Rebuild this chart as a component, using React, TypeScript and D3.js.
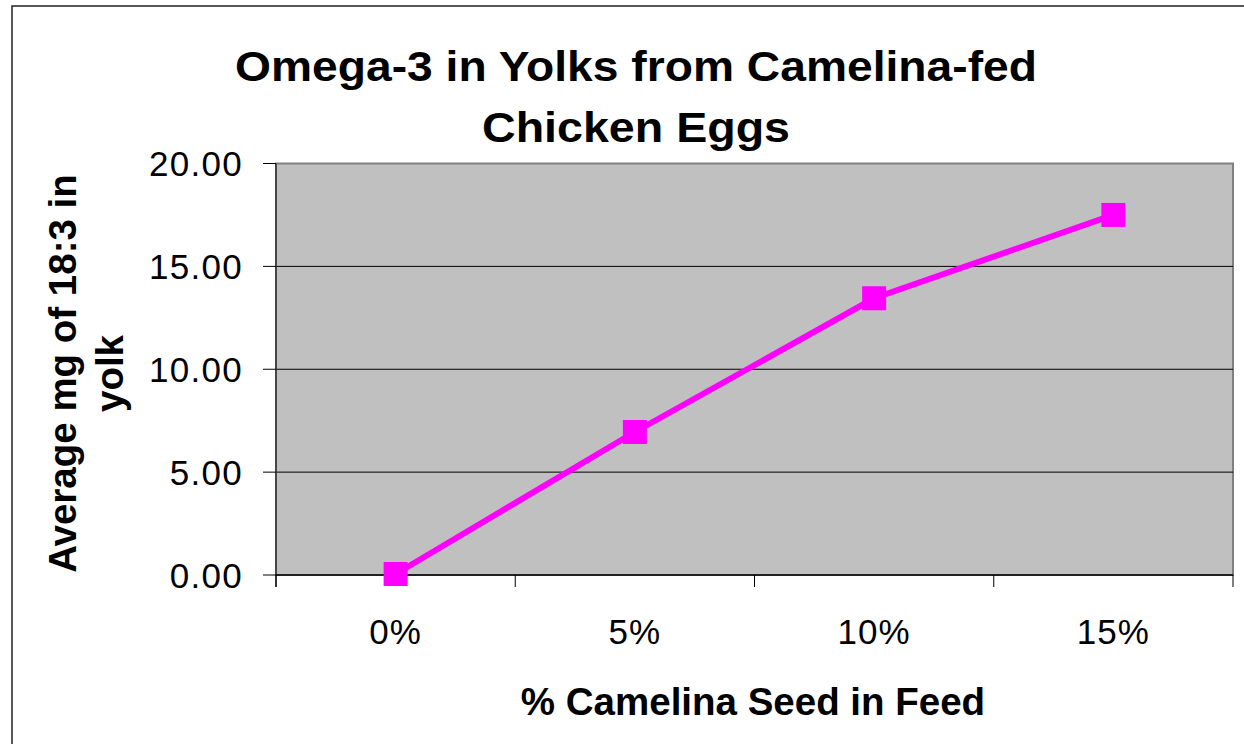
import React from "react";
import * as d3 from "d3";

const categories: string[] = ["0%", "5%", "10%", "15%"];
const values: number[] = [0.05, 6.95, 13.45, 17.5];
const yTicks: number[] = [0, 5, 10, 15, 20];
const titleLines: string[] = ["Omega-3 in Yolks from Camelina-fed", "Chicken Eggs"];
const yTitleLines: string[] = ["Average mg of 18:3 in", "yolk"];
const xTitle = "% Camelina Seed in Feed";

const W = 1244;
const H = 744;
const plot = { left: 276, right: 1233, top: 163.5, bottom: 575 };
const FONT = "'Liberation Sans', Arial, Helvetica, sans-serif";

export default function App() {
  const x = d3
    .scaleBand<string>()
    .domain(categories)
    .range([plot.left, plot.right])
    .padding(0);
  const y = d3.scaleLinear().domain([0, 20]).range([plot.bottom, plot.top]);

  const line = d3
    .line<number>()
    .x((_, i) => (x(categories[i]) as number) + x.bandwidth() / 2)
    .y((d) => y(d));

  const boundaries = categories.map((c) => x(c) as number).concat([plot.right]);
  const ms = 24;

  return (
    <svg
      width={W}
      height={H}
      style={{ position: "absolute", left: 0, top: 0, background: "#fff" }}
      fontFamily={FONT}
    >
      {/* outer chart border */}
      <rect x={12} y={6} width={1300} height={800} fill="#fff" stroke="#222" strokeWidth={1.5} />

      {/* title */}
      <text x={636} y={81} textAnchor="middle" fontSize={42.5} fontWeight="bold" fill="#000" textLength={802} lengthAdjust="spacingAndGlyphs">
        {titleLines[0]}
      </text>
      <text x={636} y={141.5} textAnchor="middle" fontSize={42.5} fontWeight="bold" fill="#000" textLength={308} lengthAdjust="spacingAndGlyphs">
        {titleLines[1]}
      </text>

      {/* plot area */}
      <rect
        x={plot.left}
        y={plot.top}
        width={plot.right - plot.left}
        height={plot.bottom - plot.top}
        fill="#C0C0C0"
        stroke="#808080"
        strokeWidth={2}
      />

      {/* gridlines */}
      {yTicks
        .filter((t) => t !== 0 && t !== 20)
        .map((t) => (
          <line key={"g" + t} x1={plot.left} x2={plot.right} y1={y(t)} y2={y(t)} stroke="#000" strokeWidth={1} />
        ))}

      {/* y axis */}
      <line x1={plot.left} x2={plot.left} y1={plot.top} y2={plot.bottom + 12} stroke="#333" strokeWidth={1.5} />
      {yTicks.map((t) => (
        <g key={"y" + t}>
          <line x1={plot.left - 13} x2={plot.left} y1={y(t)} y2={y(t)} stroke="#000" strokeWidth={1} />
          <text x={243} y={y(t) + 12.5} textAnchor="end" fontSize={35} fill="#000" letterSpacing={1.3}>
            {t.toFixed(2)}
          </text>
        </g>
      ))}

      {/* x axis */}
      <line x1={plot.left} x2={plot.right} y1={plot.bottom} y2={plot.bottom} stroke="#000" strokeWidth={1.5} />
      {boundaries.map((b, i) => (
        <line key={"xt" + i} x1={b} x2={b} y1={plot.bottom} y2={plot.bottom + 12} stroke="#000" strokeWidth={1} />
      ))}
      {categories.map((c) => (
        <text
          key={"xl" + c}
          x={(x(c) as number) + x.bandwidth() / 2}
          y={644}
          textAnchor="middle"
          fontSize={35}
          fill="#000"
          letterSpacing={1}
        >
          {c}
        </text>
      ))}

      {/* axis titles */}
      <text x={753} y={715} textAnchor="middle" fontSize={38.5} fontWeight="bold" fill="#000">
        {xTitle}
      </text>
      <g transform="translate(76,373.5) rotate(-90)">
        <text x={0} y={0} textAnchor="middle" fontSize={38.5} fontWeight="bold" fill="#000">
          {yTitleLines[0]}
        </text>
      </g>
      <g transform="translate(123,373.5) rotate(-90)">
        <text x={0} y={0} textAnchor="middle" fontSize={38.5} fontWeight="bold" fill="#000">
          {yTitleLines[1]}
        </text>
      </g>

      {/* series */}
      <path d={line(values) || ""} fill="none" stroke="#FF00FF" strokeWidth={6} />
      {values.map((v, i) => (
        <rect
          key={"m" + i}
          x={(x(categories[i]) as number) + x.bandwidth() / 2 - ms / 2}
          y={y(v) - ms / 2}
          width={ms}
          height={ms}
          fill="#FF00FF"
        />
      ))}
    </svg>
  );
}
